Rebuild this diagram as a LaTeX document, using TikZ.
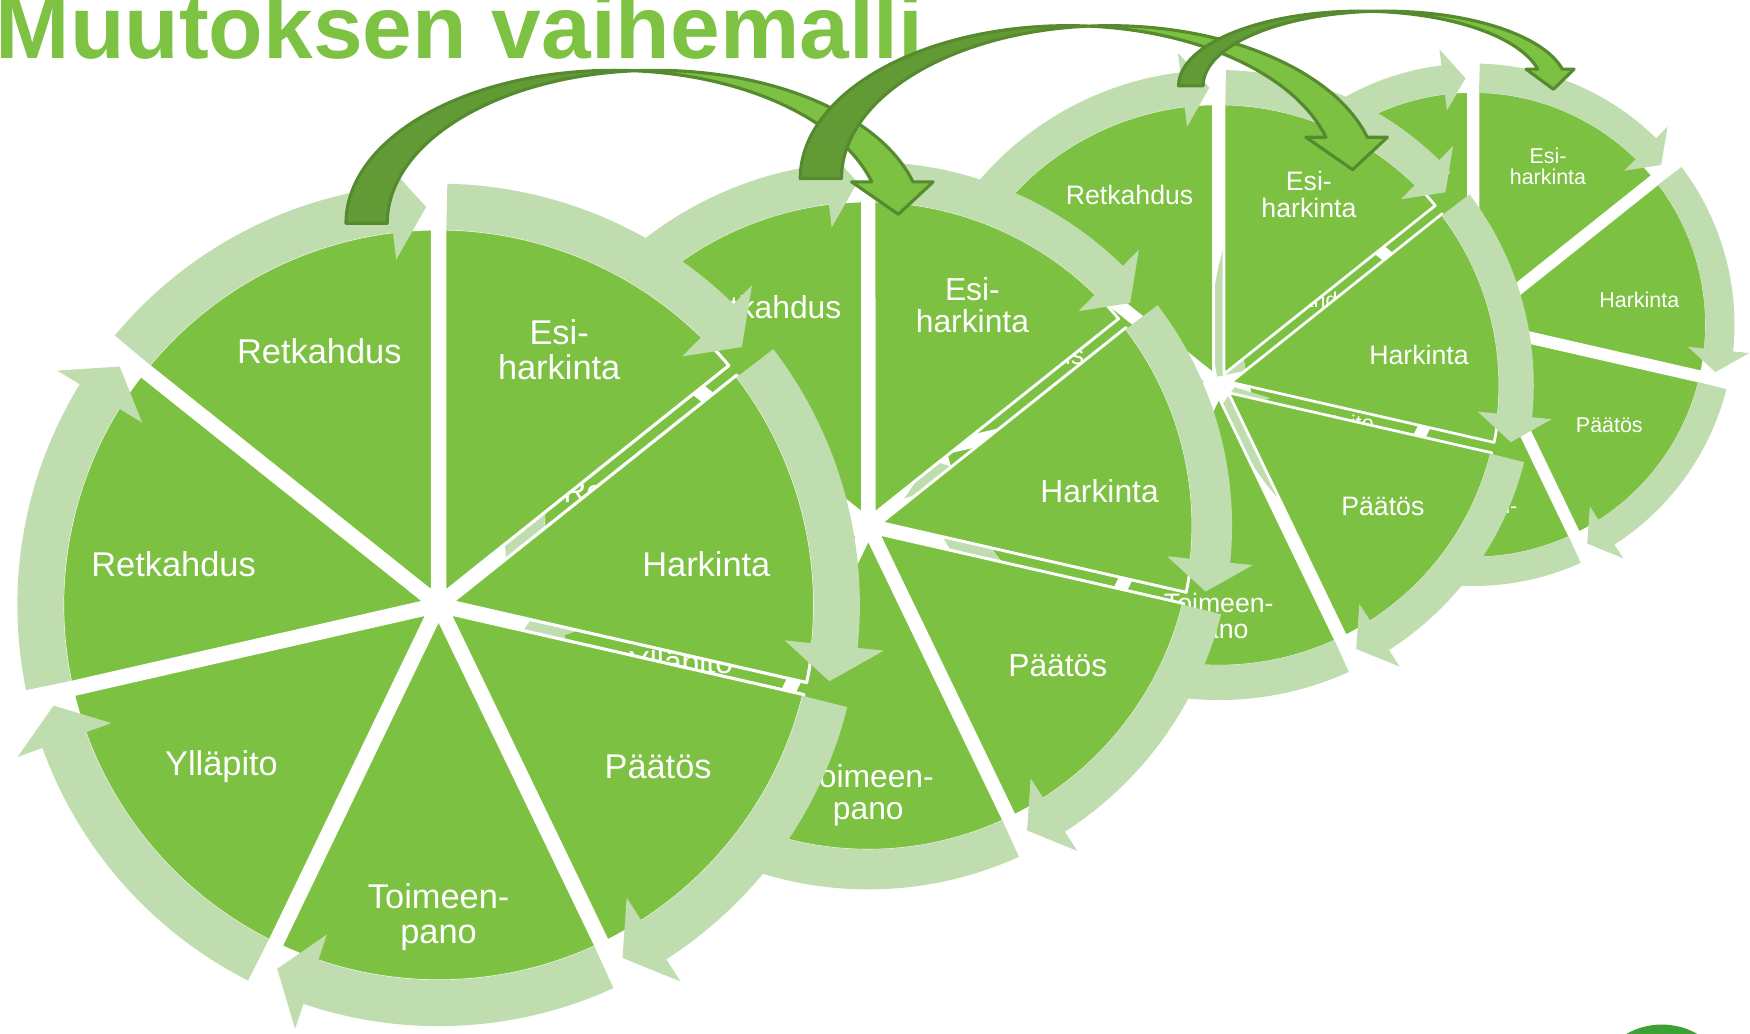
\documentclass[tikz,border=0pt]{standalone}
\usepackage{fontspec}
\setmainfont{Liberation Sans}
\definecolor{pie}{HTML}{7CC142}
\definecolor{ringc}{HTML}{C0DDB0}
\definecolor{adark}{HTML}{629B36}
\definecolor{aline}{HTML}{568A2F}
\definecolor{titlec}{HTML}{7DC243}
\definecolor{blobc}{HTML}{3DA035}
\tikzset{
  seg/.style={fill=pie, draw=white, line join=round},
  ringarrow/.style={fill=ringc},
  lbl/.style={text=white, align=center, inner sep=0pt},
  darkband/.style={fill=adark, draw=aline, line width=2.8pt, line join=round},
  lightband/.style={fill=pie, draw=aline, line width=2.8pt, line join=round},
}
% one cycle: #1 X, #2 Y, #3 R, #4 font size, #5 name prefix
\newcommand{\cyc}[5]{%
\begin{scope}[shift={(#1,#2)}]
\pgfmathsetmacro{\cRr}{#3}
\pgfmathsetmacro{\cSf}{sqrt(#3/334)}
\pgfmathsetmacro{\cDd}{5.5*\cSf}
\pgfmathsetmacro{\cSw}{2.8*\cSf}
\pgfmathsetmacro{\cAp}{\cDd/sin(180/7)}
\pgfmathsetmacro{\cEp}{asin(\cDd/\cRr)}
\pgfmathsetmacro{\cRi}{\cRr-1}
\pgfmathsetmacro{\cRo}{1.12*\cRr}
\pgfmathsetmacro{\cRm}{(\cRi+\cRo)/2}
\pgfmathsetmacro{\cRhi}{0.925*\cRr}
\pgfmathsetmacro{\cRho}{1.19*\cRr}
\pgfmathsetmacro{\cEt}{asin(\cDd/\cRm)+0.3}
\foreach \k in {0,...,6}{%
  \pgfmathsetmacro{\cA}{90-\k*360/7}
  \pgfmathsetmacro{\cB}{\cA-360/7}
  \pgfmathsetmacro{\cM}{\cA-180/7}
  \pgfmathsetmacro{\cAs}{\cA-\cEp}
  \pgfmathsetmacro{\cBs}{\cB+\cEp}
  \path[seg, line width=\cSw pt] (\cM:\cAp) -- (\cAs:\cRr) arc[start angle=\cAs, end angle=\cBs, radius=\cRr] -- cycle;
}
\foreach \k in {0,...,6}{%
  \pgfmathsetmacro{\cT}{90-\k*360/7-\cEt}
  \pgfmathsetmacro{\cTip}{90-(\k+1)*360/7+1.8}
  \pgfmathsetmacro{\cHb}{\cTip+5.2}
  \fill[ringarrow] (\cT:\cRo) arc[start angle=\cT, end angle=\cHb, radius=\cRo] -- (\cHb:\cRho) -- (\cTip:\cRm) -- (\cHb:\cRhi) -- (\cHb:\cRi) arc[start angle=\cHb, end angle=\cT, radius=\cRi] -- cycle;
}
\begin{scope}[every node/.style={lbl, font=\fontsize{#4}{#4}\selectfont}]
\node (#5esi) at (64.7:{0.75*#3}) {Esi-\\harkinta};
\node (#5har) at (8.6:{0.72*#3}) {Harkinta};
\node (#5paa) at (-36.4:{0.725*#3}) {Päätös};
\node (#5toi) at (-90:{0.83*#3}) {Toimeen-\\pano};
\node (#5yll) at (-143.3:{0.72*#3}) {Ylläpito};
\node (#5retl) at (171.3:{0.713*#3}) {Retkahdus};
\node (#5rett) at (115.2:{0.745*#3}) {Retkahdus};
\end{scope}
\end{scope}}
% big curved arrow: #1 cx, #2 Yb, #3 a, #4 b, #5 w, #6 head angle, #7 head ext, #8 tip dx, #9 tip dy
\newcommand{\bigarrow}[9]{%
\pgfmathsetmacro{\tcA}{acos(#5/(2*#3))}
\pgfmathsetmacro{\tcB}{180-\tcA}
\draw[darkband] (#1-#3,#2) arc[start angle=180, end angle=\tcA, x radius=#3, y radius=#4] arc[start angle=\tcB, end angle=180, x radius=#3, y radius=#4] -- cycle;
\draw[lightband] ({#1+#3*cos(\tcA)},{#2+#4*sin(\tcA)}) arc[start angle=\tcA, end angle=#6, x radius=#3, y radius=#4] -- ++(-#7,0) -- ++({#7+#5/2+#8},-#9) -- ++({#5/2-#8+#7},#9) -- ++(-#7,0) arc[start angle=#6, end angle=\tcB, x radius=#3, y radius=#4] -- cycle;
}
\begin{document}
\begin{tikzpicture}[x=1pt,y=1pt]
\useasboundingbox (0,0) rectangle (1568,926);
\clip (0,0) rectangle (1568,926);
\fill[white] (0,0) rectangle (1568,926);
\cyc{1320}{635}{209}{19.2}{d}
\cyc{1092}{581}{252}{23.9}{c}
\cyc{778}{455}{291}{28.5}{b}
\cyc{393}{384}{337}{30.8}{a}
\node[anchor=base west, inner sep=0pt, text=titlec, font=\fontsize{80}{80}\selectfont\bfseries] (title) at (-4,874) {Muutoksen vaihemalli};
\bigarrow{550}{726}{240}{137}{37}{15.67}{18}{5.4}{29}
\bigarrow{957}{766}{240}{137}{37}{15.67}{18}{5.4}{29}
\bigarrow{1219}{849}{163}{67}{22}{12.94}{10.5}{3}{18}
\fill[blobc] (1489,-56) circle[radius=64];
\end{tikzpicture}
\end{document}
